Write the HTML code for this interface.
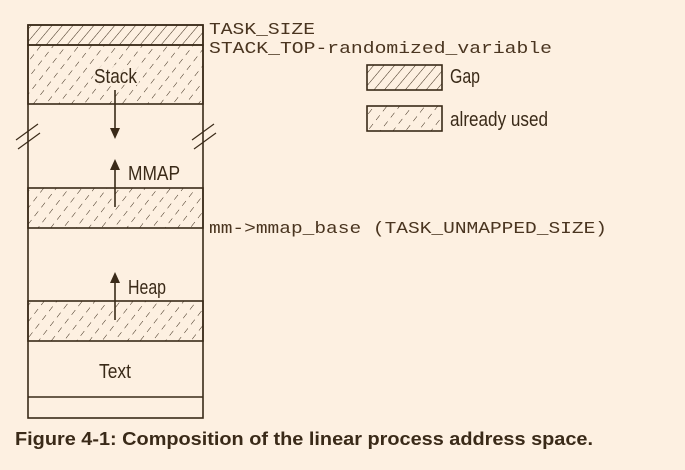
<!DOCTYPE html>
<html><head><style>
html,body{margin:0;padding:0;background:#fdf0e1;}
svg{display:block}
.m{font-family:"Liberation Mono",monospace;font-size:17px;fill:#4a3520}
.s{font-family:"Liberation Sans",sans-serif;font-size:20px;fill:#3a2a18}
</style></head><body>
<svg width="685" height="470" viewBox="0 0 685 470" xmlns="http://www.w3.org/2000/svg">
<defs>
<pattern id="gap" patternUnits="userSpaceOnUse" width="8" height="8" patternTransform="rotate(40)">
<line x1="0" y1="0" x2="0" y2="8" stroke="#3a2a18" stroke-width="1"/>
</pattern>
<pattern id="used" patternUnits="userSpaceOnUse" width="10" height="11" patternTransform="rotate(38)">
<line x1="0" y1="0" x2="0" y2="11" stroke="#3a2a18" stroke-width="1" stroke-dasharray="6 5"/>
</pattern>
</defs>
<rect width="685" height="470" fill="#fdf0e1"/>
<g stroke="#3a2a18" stroke-width="1.6">
<rect x="28" y="25" width="175" height="20" fill="url(#gap)"/>
<rect x="28" y="45" width="175" height="59" fill="url(#used)"/>
<rect x="28" y="188" width="175" height="40" fill="url(#used)"/>
<rect x="28" y="301" width="175" height="40" fill="url(#used)"/>
<rect x="28" y="25" width="175" height="393" fill="none"/>
<line x1="28" y1="397" x2="203" y2="397"/>
<rect x="367" y="65" width="75" height="25" fill="url(#gap)"/>
<rect x="367" y="106" width="75" height="25" fill="url(#used)"/>
<line x1="16" y1="140" x2="38" y2="124" stroke-width="1.2"/>
<line x1="18" y1="149" x2="40" y2="133" stroke-width="1.2"/>
<line x1="192" y1="140" x2="214" y2="124" stroke-width="1.2"/>
<line x1="194" y1="149" x2="216" y2="133" stroke-width="1.2"/>
<line x1="115" y1="90" x2="115" y2="130"/>
<line x1="115" y1="207" x2="115" y2="168"/>
<line x1="115" y1="320" x2="115" y2="280"/>
</g>
<g fill="#3a2a18">
<polygon points="110,128 120,128 115,139"/>
<polygon points="110,170 120,170 115,159"/>
<polygon points="110,283 120,283 115,272"/>
</g>
<rect x="93" y="65" width="46" height="20" fill="#fdf0e1" opacity="0.8"/>
<text class="s" x="94" y="83" textLength="43" lengthAdjust="spacingAndGlyphs">Stack</text>
<text class="s" x="128" y="180" textLength="52" lengthAdjust="spacingAndGlyphs">MMAP</text>
<text class="s" x="128" y="294" textLength="38" lengthAdjust="spacingAndGlyphs">Heap</text>
<text class="s" x="99" y="378" textLength="32" lengthAdjust="spacingAndGlyphs">Text</text>
<text class="s" x="450" y="83" textLength="30" lengthAdjust="spacingAndGlyphs">Gap</text>
<text class="s" x="450" y="126" textLength="98" lengthAdjust="spacingAndGlyphs">already used</text>
<text class="m" x="209" y="34" textLength="106" lengthAdjust="spacingAndGlyphs">TASK_SIZE</text>
<text class="m" x="209" y="53" textLength="343" lengthAdjust="spacingAndGlyphs">STACK_TOP-randomized_variable</text>
<text class="m" x="209" y="233" textLength="398" lengthAdjust="spacingAndGlyphs">mm-&gt;mmap_base (TASK_UNMAPPED_SIZE)</text>
<text x="15" y="445" font-family="Liberation Sans, sans-serif" font-weight="bold" font-size="18" fill="#3a2a18" textLength="578" lengthAdjust="spacingAndGlyphs">Figure 4-1: Composition of the linear process address space.</text>
</svg>
</body></html>
